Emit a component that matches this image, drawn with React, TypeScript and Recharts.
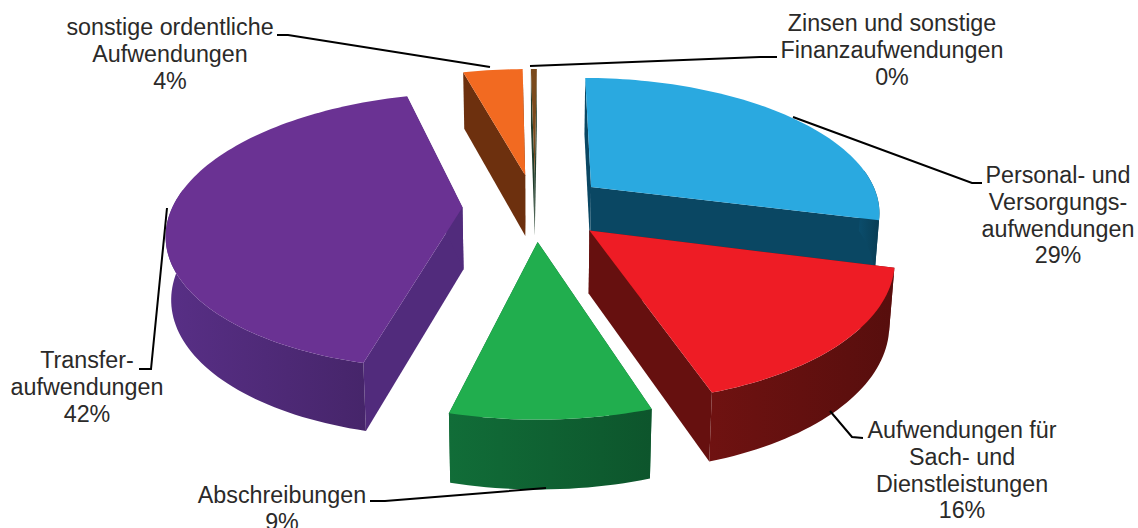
import React from 'react';
import { PieChart, Pie } from 'recharts';

const NAMES = ['Personal', 'Sach', 'Abschreibungen', 'Transfer', 'Ordentlich', 'Zinsen'];
const VALUES = [29, 16, 9, 42, 4, 0.4];
const LABEL_LINES = [
  ['Personal- und', 'Versorgungs-', 'aufwendungen'],
  ['Aufwendungen für', 'Sach- und', 'Dienstleistungen'],
  ['Abschreibungen'],
  ['Transfer-', 'aufwendungen'],
  ['sonstige ordentliche', 'Aufwendungen'],
  ['Zinsen und sonstige', 'Finanzaufwendungen'],
];
const TOP_COLORS = ['#2aa9e0', '#ee1c25', '#21ae4e', '#6a3293', '#f26a21', '#7a4a1c'];
const WALL_COLORS = ['#0a4560', '#63100f', '#0f6132', '#4f2a78', '#6a2f0e', '#1f3b2a'];

// label layout: centre x, first baseline y, line step, leader polyline
const LABEL_X = [1058, 962, 282, 87, 170, 892];
const LABEL_Y = [183, 438, 503, 368, 35, 31];
const LABEL_STEP = 26.8;
const LEADERS = [
  '793,117 972,183 982,183',
  '830,411 852,437 863,438',
  '370,501 385,501 546,488',
  '167,208 151,369 139,369',
  '277,35 288,35 490,67',
  '530,66 760,57 777,57',
];

const EXPLODE = 0.25;
const PERSP = 0.17;
const TILT = 0.462;
const DEPTH = 62;
const BOTTOM_SHRINK = 0.985;

const rows = NAMES.map((name, i) => ({ name, value: VALUES[i] }));

function scaleHex(hex: string, f: number) {
  const n = parseInt(hex.slice(1), 16);
  const ch = [(n >> 16) & 255, (n >> 8) & 255, n & 255].map((c) =>
    Math.max(0, Math.min(255, Math.round(c * f)))
  );
  return `rgb(${ch[0]},${ch[1]},${ch[2]})`;
}

function SliceShape(props: any) {
  const { cx, cy, outerRadius: R, startAngle, endAngle, name } = props;
  const idx = NAMES.indexOf(name ?? props.payload?.name);
  const rad = Math.PI / 180;
  const mid = ((startAngle + endAngle) / 2) * rad;
  const ox = Math.cos(mid) * EXPLODE;
  const oy = -Math.sin(mid) * EXPLODE;

  const project = (u: number, v: number) => {
    const X = u + ox;
    const Y = v + oy;
    const s = 1 / (1 - PERSP * Y);
    const x = cx + R * X * s;
    const y = cy + R * TILT * Y * s;
    const d = DEPTH * Math.pow(s, 0.5);
    return { x, y, bx: cx + (x - cx) * BOTTOM_SHRINK, by: y + d };
  };

  const steps = Math.max(2, Math.ceil(Math.abs(endAngle - startAngle) / 1.5));
  const rim: { x: number; y: number; bx: number; by: number; a: number }[] = [];
  for (let i = 0; i <= steps; i++) {
    const a = (startAngle + ((endAngle - startAngle) * i) / steps) * rad;
    rim.push({ ...project(Math.cos(a), -Math.sin(a)), a });
  }
  const apex = project(0, 0);
  const wall = WALL_COLORS[idx];
  const top = TOP_COLORS[idx];
  const first = rim[0];
  const last = rim[rim.length - 1];
  const quad = (a: any, b: any) =>
    `M${a.x},${a.y}L${b.x},${b.y}L${b.bx},${b.by}L${a.bx},${a.by}Z`;
  const topPath =
    `M${apex.x},${apex.y}` + rim.map((p) => `L${p.x},${p.y}`).join('') + 'Z';
  const cutFill = scaleHex(wall, 1.03);
  const front = rim.filter((p) => -Math.sin(p.a) > -0.15);
  const gradId = `wall-${idx}`;
  const outer =
    front.length > 1
      ? 'M' +
        front.map((p) => `${p.x},${p.y}`).join('L') +
        'L' +
        [...front].reverse().map((p) => `${p.bx},${p.by}`).join('L') +
        'Z'
      : '';

  return (
    <g>
      <defs>
        <linearGradient id={gradId} x1="0" y1="0" x2="1" y2="0">
          <stop offset="0" stopColor={scaleHex(wall, 1.12)} />
          <stop offset="0.5" stopColor={scaleHex(wall, 1)} />
          <stop offset="1" stopColor={scaleHex(wall, 0.88)} />
        </linearGradient>
      </defs>
      <path d={quad(apex, first)} fill={cutFill} />
      <path d={quad(apex, last)} fill={cutFill} />
      {outer && <path d={outer} fill={`url(#${gradId})`} />}
      <path d={topPath} fill={top} />
    </g>
  );
}

function SliceLabel(props: any) {
  const name = props.name ?? props.payload?.name;
  const i = NAMES.indexOf(name);
  const lines = [...LABEL_LINES[i], `${Math.round(VALUES[i])}%`];
  return (
    <g>
      <polyline points={LEADERS[i]} fill="none" stroke="#000" strokeWidth={2} />
      <text
        textAnchor="middle"
        fontFamily="Liberation Sans, Arial, sans-serif"
        fontSize={23.3}
        fill="#2b2a29"
      >
        {lines.map((t, k) => (
          <tspan key={k} x={LABEL_X[i]} y={LABEL_Y[i] + k * LABEL_STEP}>
            {t}
          </tspan>
        ))}
      </text>
    </g>
  );
}

export default function App() {
  return (
    <div style={{ position: 'absolute', left: 0, top: 0, width: 1138, height: 528, background: '#fff' }}>
      <PieChart width={1138} height={528} margin={{ top: 0, right: 0, bottom: 0, left: 0 }}>
        <Pie
          data={rows}
          dataKey="value"
          nameKey="name"
          cx={535}
          cy={207}
          innerRadius={0}
          outerRadius={290}
          startAngle={89.5}
          endAngle={-270.5}
          stroke="none"
          isAnimationActive={false}
          shape={SliceShape}
          label={SliceLabel}
          labelLine={false}
        />
      </PieChart>
    </div>
  );
}
